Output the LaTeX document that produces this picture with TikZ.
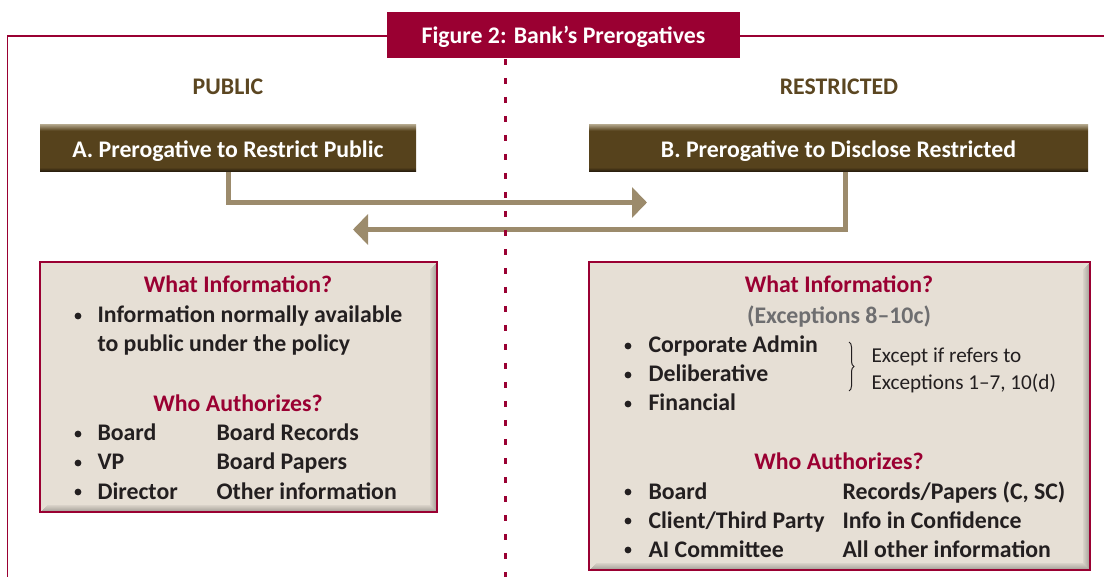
\documentclass[tikz,border=0pt]{standalone}
\usepackage{fontspec}
\setmainfont{Carlito}
\usetikzlibrary{arrows.meta,decorations.pathreplacing,positioning}

\definecolor{crimson}{HTML}{9A0032}
\definecolor{bark}{HTML}{56421C}
\definecolor{barklight}{HTML}{A89B7F}
\definecolor{barkdark}{HTML}{1E160A}
\definecolor{taupe}{HTML}{9C8B6C}
\definecolor{paper}{HTML}{E6DFD5}
\definecolor{ink}{HTML}{231F20}
\definecolor{slate}{HTML}{6E6E70}
\definecolor{sidebrown}{HTML}{5B4621}

\pgfdeclareverticalshading{bevel}{100bp}{color(0bp)=(barkdark); color(25bp)=(barkdark); color(30bp)=(bark); color(69bp)=(bark); color(75bp)=(barklight); color(100bp)=(barklight)}

\tikzset{
  big/.style={font=\bfseries\fontsize{23.8}{28}\selectfont},
  headbox/.style={big, text=white, shading=bevel, shade, minimum height=47pt, inner sep=0pt, text height=19pt, text depth=0pt},
  titlebox/.style={big, text=white, fill=crimson, minimum width=353pt, minimum height=46pt, inner sep=0pt, text height=17pt, text depth=0pt},
  side/.style={big, text=sidebrown, anchor=base},
  infobox/.style={draw=crimson, line width=1.2pt, fill=paper, inner sep=0pt,
    path picture={
      \foreach \i [evaluate=\i as \op using 0.30-0.035*\i] in {0,...,7}
        \draw[black, opacity=\op, line width=1pt]
          ([shift={(-\i pt,-\i pt)}]path picture bounding box.north east) --
          ([shift={(-\i pt,\i pt)}]path picture bounding box.south east) --
          ([shift={(\i pt,\i pt)}]path picture bounding box.south west);
    }},
  head/.style={big, text=crimson, anchor=base},
  txt/.style={big, text=ink, anchor=base west},
  note/.style={font=\fontsize{21.2}{25}\selectfont, text=ink, anchor=base west},
  flow/.style={draw=taupe, line width=5pt, -{Triangle[width=30pt,length=15pt]}},
  divider/.style={draw=crimson, line width=2.2pt, dash pattern=on 6pt off 13pt},
}

\begin{document}
\begin{tikzpicture}[x=1pt,y=-1pt]
\useasboundingbox (0,0) rectangle (1104,577);

% frame and title
\draw[crimson, line width=1.5pt] (1104,36) -- (7.5,36) -- (7.5,577);
\node[titlebox] (title) at (563.5,35) {Figure 2: Bank’s Prerogatives};

\node[side] (pub) at (228,95) {PUBLIC};
\node[side] (res) at (839,95) {RESTRICTED};

\node[headbox, minimum width=376pt] (A) at (228,148.5) {A. Prerogative to Restrict Public};
\node[headbox, minimum width=499pt] (B) at (838.5,148.5) {B. Prerogative to Disclose Restricted};

% arrows between the two sides
\coordinate (aend) at (647,202.5);
\coordinate (bend) at (353,229.5);
\draw[flow] (A.south) |- (aend);
\draw[flow] ([xshift=6.5pt]B.south) |- (bend);

\draw[divider] (505.5,59) -- (505.5,577);

% left box
\node[infobox, minimum width=397pt, minimum height=250pt] (L) at (238.5,387) {};
\node[head] (Lq1) at (238,293) {What Information?};
\fill[ink] (78,316) circle (3.4);
\node[txt] (Linfo1) at (94,323) {Information normally available};
\node[txt] (Linfo2) at (94,352) {to public under the policy};
\node[head] (Lq2) at (238,412) {Who Authorizes?};
\foreach \y/\who/\what in {441/Board/Board Records, 470/VP/Board Papers, 499/Director/Other information}{
  \fill[ink] (78,\y-7) circle (3.4);
  \node[txt] (Lwho\y) at (94,\y) {\who};
  \node[txt] (Lwhat\y) at (213,\y) {\what};
}

% right box
\node[infobox, minimum width=501pt, minimum height=308pt] (R) at (839.5,416) {};
\node[head] (Rq1) at (839,293) {What Information?};
\node[head, text=slate] (Rexc) at (839,324) {(Exceptions 8–10c)};
\foreach \y/\what in {353/Corporate Admin, 382/Deliberative, 411/Financial}{
  \fill[ink] (628,\y-7) circle (3.4);
  \node[txt] (Rinfo\y) at (645,\y) {\what};
}
\draw[ink, line width=1pt, decorate, decoration={brace, amplitude=5pt}] (849,342) -- (849,391);
\node[note] (Rnote1) at (868,363) {Except if refers to};
\node[note] (Rnote2) at (868,390) {Exceptions 1–7, 10(d)};
\node[head] (Rq2) at (839,470) {Who Authorizes?};
\foreach \y/\who/\what in {499/Board/{Records/Papers (C, SC)}, 528/{Client/Third Party}/{Info in Confidence}, 557/{AI Committee}/{All other information}}{
  \fill[ink] (628,\y-7) circle (3.4);
  \node[txt] (Rwho\y) at (645,\y) {\who};
  \node[txt] (Rwhat\y) at (839,\y) {\what};
}
\end{tikzpicture}
\end{document}
